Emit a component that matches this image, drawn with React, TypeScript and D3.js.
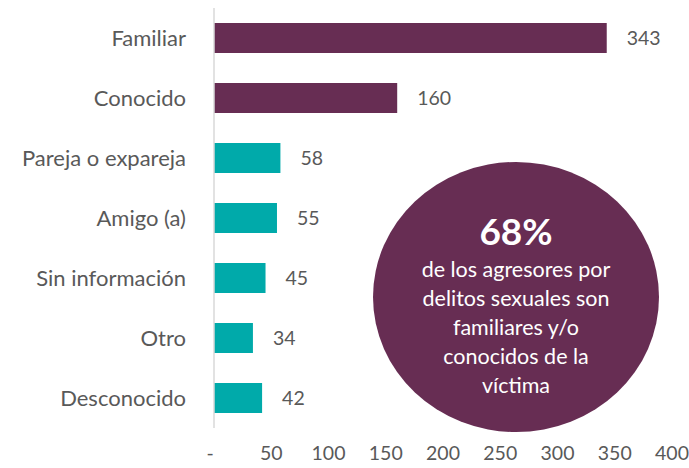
import React from "react";
import * as d3 from "d3";

const categories = ["Familiar", "Conocido", "Pareja o expareja", "Amigo (a)", "Sin información", "Otro", "Desconocido"];
const values = [343, 160, 58, 55, 45, 34, 42];
const groups = ["known", "known", "other", "other", "other", "other", "other"];
const tickValues = [0, 50, 100, 150, 200, 250, 300, 350, 400];
const tickLabels = ["-", "50", "100", "150", "200", "250", "300", "350", "400"];
const calloutTitle = "68%";
const calloutLines = ["de los agresores por", "delitos sexuales son", "familiares y/o", "conocidos de la", "víctima"];

const W = 689;
const H = 468;
const PURPLE = "#672D53";
const TEAL = "#00AAAA";
const TEXT = "#595959";
const FONT = "Lato, 'Open Sans', sans-serif";

export default function App() {
  const x = d3.scaleLinear().domain([0, 400]).range([214, 672]);
  const y = d3.scaleBand<string>().domain(categories).range([8, 428]).paddingInner(0.5).paddingOuter(0.25);
  const color = d3.scaleOrdinal<string, string>().domain(["known", "other"]).range([PURPLE, TEAL]);

  const cx = 516, cy = 297, rx = 143, ry = 135;

  return (
    <svg width={W} height={H} style={{ position: "absolute", left: 0, top: 0, fontFamily: FONT }}>
      <rect width={W} height={H} fill="#fff" />
      {categories.map((c, i) => (
        <g key={c}>
          <rect x={x(0)} y={y(c)!} width={x(values[i]) - x(0)} height={y.bandwidth()} fill={color(groups[i])} />
          <text x={x(values[i]) + 20} y={y(c)! + y.bandwidth() / 2} dy="0.35em" fontSize={19.5} fill={TEXT}>
            {values[i]}
          </text>
          <text x={186} y={y(c)! + y.bandwidth() / 2} dy="0.35em" fontSize={22} fill={TEXT} textAnchor="end">
            {c}
          </text>
        </g>
      ))}
      <line x1={x(0)} x2={x(0)} y1={8} y2={428} stroke="#D9D9D9" strokeWidth={1.5} />
      {tickValues.map((t, i) => (
        <text key={t} x={x(t) - (t === 0 ? 4 : 0)} y={460} fontSize={19.5} fill={TEXT} textAnchor="middle">
          {tickLabels[i]}
        </text>
      ))}
      <ellipse cx={cx} cy={cy} rx={rx} ry={ry} fill={PURPLE} />
      <text x={cx} y={245} fontSize={37} fontWeight="bold" fill="#fff" textAnchor="middle">
        {calloutTitle}
      </text>
      {calloutLines.map((l, i) => (
        <text key={l} x={cx} y={277 + i * 29} fontSize={21.5} fill="#fff" textAnchor="middle">
          {l}
        </text>
      ))}
    </svg>
  );
}
